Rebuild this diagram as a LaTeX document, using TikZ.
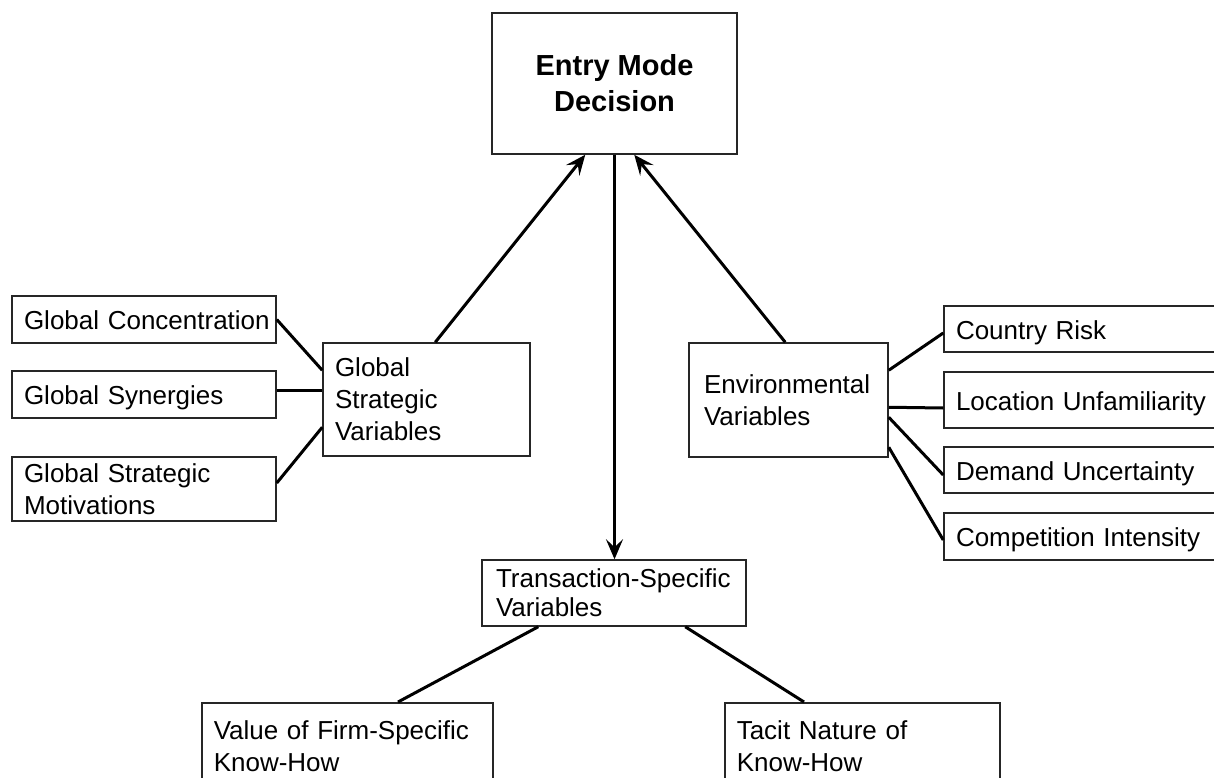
\documentclass[tikz,border=0pt]{standalone}
\usepackage{fontspec}
\setmainfont{Liberation Sans}
\usetikzlibrary{arrows.meta}
\begin{document}
\begin{tikzpicture}[x=1pt,y=-1pt,
  box/.style={draw=black!85, line width=1.5pt, rectangle, inner xsep=12pt, inner ysep=0pt,
    align=left, font=\fontsize{26}{32}\selectfont},
  oneline/.style={text height=20pt, text depth=0pt},
  link/.style={line width=3pt},
  arrow/.style={link, -{Stealth[length=20pt,width=17pt,inset=8pt]}}
]
\useasboundingbox (0,0) rectangle (1214,778);

% central decision
\node[box, font=\fontsize{29}{36}\selectfont\bfseries, align=center,
  minimum width=245pt, minimum height=141pt] (emd) at (614.5,83.5) {Entry Mode\\Decision};

% global strategic branch
\node[box, oneline, minimum width=264pt, minimum height=47pt, text width=240pt] (gc) at (144,319.5) {\mbox{Global Concentration}};
\node[box, oneline, minimum width=264pt, minimum height=47pt, text width=240pt] (gs) at (144,394.5) {Global Synergies};
\node[box, minimum width=264pt, minimum height=64pt, text width=240pt] (gsm) at (144,489) {Global Strategic\\Motivations};
\node[box, minimum width=207pt, minimum height=113pt, text width=183pt] (gsv) at (426.5,399.5) {Global\\Strategic\\Variables};

% environmental branch
\node[box, inner xsep=15pt, minimum width=199pt, minimum height=114pt, text width=169pt] (env) at (788.5,400) {Environmental\\Variables};
\node[box, oneline, minimum width=276pt, minimum height=46pt, text width=252pt] (cr) at (1082,329) {Country Risk};
\node[box, oneline, minimum width=276pt, minimum height=56pt, text width=252pt] (lu) at (1082,400) {Location Unfamiliarity};
\node[box, oneline, minimum width=276pt, minimum height=46pt, text width=252pt] (du) at (1082,470) {Demand Uncertainty};
\node[box, oneline, minimum width=276pt, minimum height=47pt, text width=252pt] (ci) at (1082,536.5) {Competition Intensity};

% transaction-specific branch
\node[box, font=\fontsize{26}{29}\selectfont, inner xsep=14pt, minimum width=264pt, minimum height=66pt,
  text width=236pt] (tsv) at (614,593) {\mbox{Transaction-Specific}\\Variables};
\node[box, inner ysep=18pt, text width=267pt, anchor=north west] (vfs) at (201,702) {Value of Firm-Specific\\Know-How};
\node[box, inner ysep=18pt, text width=251pt, anchor=north west] (tn) at (724,702) {Tacit Nature of\\Know-How};

% arrows to and from the decision
\draw[arrow] ([xshift=113pt]gsv.north west) -- ([xshift=94pt]emd.south west);
\draw[arrow] ([xshift=97pt]env.north west) -- ([xshift=143pt]emd.south west);
\draw[arrow] (emd.south) -- (emd.south |- tsv.north);

% global strategic factors
\draw[link] (gc.east) -- ([yshift=-28pt]gsv.north west);
\draw[link] ([yshift=4pt]gs.east) -- ([yshift=4pt]gs.east -| gsv.west);
\draw[link] ([yshift=6pt]gsm.east) -- ([yshift=-85pt]gsv.north west);

% environmental factors
\draw[link] ([yshift=-28pt]env.north east) -- ([yshift=-4pt]cr.west);
\draw[link] ([yshift=-65pt]env.north east) -- ([yshift=-8pt]lu.west);
\draw[link] ([yshift=-75pt]env.north east) -- ([yshift=-5pt]du.west);
\draw[link] ([yshift=-105pt]env.north east) -- ([yshift=-3.5pt]ci.west);

% transaction-specific factors
\draw[link] ([xshift=57pt]tsv.south west) -- ([xshift=197pt]vfs.north west);
\draw[link] ([xshift=204pt]tsv.south west) -- ([xshift=80pt]tn.north west);
\end{tikzpicture}
\end{document}
